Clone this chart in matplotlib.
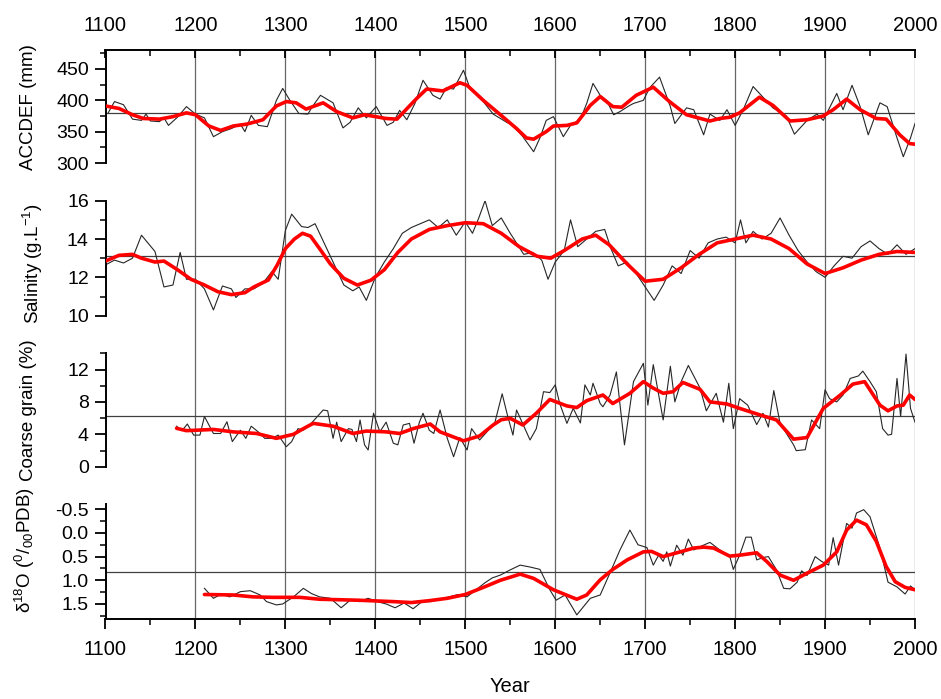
import matplotlib
matplotlib.use('Agg')
import matplotlib.pyplot as plt
from matplotlib.ticker import MultipleLocator, FixedLocator

plt.rcParams['font.family'] = ['Liberation Sans', 'DejaVu Sans']
plt.rcParams['mathtext.fontset'] = 'custom'
plt.rcParams['mathtext.rm'] = 'Liberation Sans'
plt.rcParams['mathtext.it'] = 'Liberation Sans:italic'

# ---- data ----
year_ticks = list(range(1100, 2001, 100))

acc_years = [1103, 1110, 1120, 1130, 1140, 1145, 1150, 1160, 1165, 1170,
             1180, 1190, 1200, 1210, 1220, 1230, 1240, 1250, 1255, 1262,
             1270, 1280, 1290, 1297, 1305, 1315, 1325, 1330, 1339, 1353,
             1364, 1372, 1381, 1390, 1401, 1413, 1420, 1427, 1435, 1444,
             1453, 1464, 1472, 1479, 1487, 1498, 1505, 1520, 1531, 1546,
             1553, 1564, 1576, 1583, 1590, 1598, 1609, 1617, 1628, 1635,
             1642, 1650, 1657, 1665, 1672, 1683, 1687, 1698, 1705, 1716,
             1728, 1733, 1746, 1754, 1765, 1772, 1783, 1791, 1800, 1809,
             1820, 1831, 1842, 1857, 1866, 1880, 1891, 1898, 1913, 1920,
             1930, 1939, 1948, 1961, 1969, 1980, 1987, 1995, 2000]
acc_raw = [380, 398, 393, 370, 368, 378, 367, 366, 372, 360,
           373, 390, 378, 372, 342, 350, 355, 362, 350, 376,
           360, 358, 400, 419, 400, 379, 378, 390, 408, 396,
           356, 365, 388, 372, 390, 360, 365, 384, 369, 395,
           432, 408, 402, 420, 418, 448, 420, 398, 378, 365,
           360, 342, 318, 340, 368, 374, 342, 360, 370, 395,
           427, 408, 400, 377, 382, 392, 395, 400, 420, 437,
           390, 363, 388, 385, 345, 378, 368, 385, 360, 385,
           422, 405, 388, 375, 346, 368, 378, 368, 411, 385,
           424, 390, 345, 396, 390, 340, 310, 340, 363]
acc_s_years = [1100, 1115, 1130, 1142, 1160, 1175, 1190, 1200, 1215, 1228,
               1242, 1257, 1275, 1290, 1301, 1312, 1323, 1342, 1357, 1375,
               1388, 1412, 1424, 1446, 1457, 1475, 1494, 1502, 1520, 1539,
               1557, 1568, 1576, 1590, 1598, 1613, 1624, 1639, 1650, 1664,
               1674, 1690, 1709, 1727, 1746, 1772, 1783, 1794, 1805, 1827,
               1842, 1861, 1880, 1898, 1909, 1924, 1939, 1957, 1968, 1983,
               1994, 2000]
acc_smooth = [391, 387, 377, 371, 370, 374, 380, 377, 359, 352,
              359, 362, 369, 391, 398, 396, 386, 396, 382, 372,
              377, 371, 370, 403, 418, 415, 428, 424, 400, 377,
              355, 340, 338, 350, 359, 360, 364, 392, 406, 390,
              389, 408, 421, 398, 377, 367, 371, 373, 380, 405,
              392, 367, 369, 375, 385, 402, 385, 371, 370, 345,
              331, 330]

sal_years = [1100, 1110, 1120, 1130, 1140, 1155, 1165, 1175, 1183, 1190,
             1200, 1210, 1220, 1230, 1240, 1245, 1255, 1265, 1275, 1285,
             1292, 1300, 1307, 1318, 1325, 1333, 1345, 1355, 1365, 1375,
             1382, 1390, 1400, 1410, 1420, 1430, 1440, 1450, 1460, 1470,
             1480, 1490, 1500, 1508, 1515, 1522, 1530, 1540, 1550, 1565,
             1575, 1585, 1592, 1600, 1610, 1617, 1625, 1635, 1645, 1655,
             1662, 1670, 1680, 1690, 1700, 1710, 1720, 1730, 1740, 1750,
             1760, 1770, 1780, 1790, 1800, 1806, 1812, 1820, 1830, 1840,
             1850, 1860, 1870, 1880, 1890, 1900, 1910, 1920, 1930, 1940,
             1950, 1960, 1970, 1980, 1990, 2000]
sal_raw = [12.65, 12.9, 12.75, 13.0, 14.2, 13.35, 11.5, 11.6, 13.3, 11.9,
           11.9, 11.4, 10.3, 11.55, 11.4, 10.95, 11.4, 11.4, 11.7, 12.3,
           11.9, 14.45, 15.3, 14.65, 14.6, 14.8, 13.6, 12.6, 11.6, 11.3,
           11.5, 10.8, 12.0, 12.8, 13.5, 14.3, 14.6, 14.8, 15.0, 14.6,
           15.0, 14.2, 14.9, 14.3, 15.1, 16.0, 14.7, 15.1, 14.3, 13.2,
           13.3, 12.9, 11.9, 12.8, 13.4, 15.0, 13.6, 14.0, 14.4, 14.5,
           13.5, 12.6, 12.8, 12.2, 11.5, 10.8, 11.6, 12.6, 12.2, 13.4,
           13.0, 13.8, 14.0, 14.1, 13.8, 15.0, 13.8, 14.4, 14.0, 14.3,
           15.1, 14.2, 13.4, 12.8, 12.3, 12.0, 12.6, 13.1, 13.0, 13.6,
           13.9, 13.5, 13.2, 13.7, 13.2, 13.5]
sal_s_years = [1100, 1115, 1130, 1140, 1155, 1165, 1180, 1195, 1210, 1225,
               1240, 1255, 1265, 1281, 1291, 1300, 1310, 1319, 1328, 1338,
               1350, 1365, 1380, 1395, 1410, 1425, 1440, 1460, 1480, 1500,
               1520, 1540, 1560, 1580, 1595, 1610, 1630, 1645, 1660, 1680,
               1700, 1720, 1740, 1760, 1780, 1800, 1820, 1840, 1860, 1880,
               1900, 1920, 1940, 1960, 1980, 2000]
sal_smooth = [12.85, 13.15, 13.2, 13.0, 12.8, 12.85, 12.4, 11.9, 11.6, 11.25,
              11.1, 11.2, 11.5, 11.86, 12.65, 13.5, 14.0, 14.3, 14.15, 13.5,
              12.7, 11.95, 11.6, 11.85, 12.4, 13.3, 14.0, 14.5, 14.7, 14.85,
              14.8, 14.3, 13.6, 13.1, 13.0, 13.4, 14.0, 14.2, 13.7, 12.7,
              11.8, 11.9, 12.5, 13.2, 13.8, 14.0, 14.2, 14.0, 13.5, 12.7,
              12.2, 12.5, 12.9, 13.2, 13.35, 13.3]

cg_years = [1179, 1185, 1191, 1198, 1205, 1210, 1220, 1228, 1235, 1241,
            1250, 1256, 1262, 1272, 1277, 1285, 1292, 1301, 1307, 1314,
            1320, 1327, 1334, 1342, 1347, 1353, 1357, 1362, 1370, 1374,
            1379, 1383, 1388, 1392, 1398, 1405, 1412, 1420, 1425, 1431,
            1438, 1443, 1449, 1453, 1460, 1465, 1472, 1480, 1487, 1494,
            1502, 1507, 1516, 1524, 1533, 1541, 1547, 1553, 1557, 1572,
            1579, 1587, 1594, 1600, 1605, 1613, 1620, 1628, 1633, 1639,
            1642, 1650, 1653, 1661, 1668, 1677, 1687, 1698, 1703, 1709,
            1720, 1728, 1733, 1740, 1748, 1761, 1768, 1779, 1787, 1793,
            1798, 1805, 1814, 1824, 1831, 1837, 1843, 1850, 1865, 1868,
            1878, 1885, 1894, 1900, 1905, 1913, 1920, 1928, 1937, 1942,
            1950, 1957, 1964, 1970, 1974, 1980, 1984, 1990, 1995, 2000]
cg_raw = [5.0, 4.45, 5.27, 3.9, 3.9, 6.2, 4.1, 4.1, 5.55, 3.1,
          4.5, 3.5, 5.0, 4.1, 3.5, 3.5, 3.9, 2.47, 3.1, 4.7,
          4.5, 5.15, 6.0, 7.0, 6.9, 3.5, 5.5, 3.1, 4.7, 4.6,
          3.1, 5.77, 2.7, 2.06, 6.6, 4.3, 5.5, 2.9, 2.7, 5.15,
          5.35, 2.9, 5.5, 6.6, 4.5, 4.1, 7.0, 3.5, 1.23, 3.6,
          2.06, 4.7, 3.3, 4.3, 5.5, 9.0, 6.3, 3.9, 7.0, 3.3,
          4.7, 9.26, 9.15, 10.1, 7.8, 5.35, 7.2, 5.4, 10.1, 8.85,
          10.3, 7.8, 7.4, 8.85, 11.7, 2.7, 10.5, 12.76, 7.6, 12.6,
          5.77, 12.4, 8.0, 10.5, 12.5, 9.7, 6.9, 9.06, 5.5, 10.3,
          4.7, 8.4, 7.6, 5.2, 6.6, 4.9, 9.4, 5.35, 2.7, 1.98,
          2.1, 5.77, 4.7, 9.5, 8.4, 8.0, 8.85, 10.9, 11.2, 11.8,
          10.5, 9.26, 4.7, 3.9, 4.0, 10.9, 6.2, 13.9, 7.2, 5.5]
cg_s_years = [1179, 1190, 1220, 1242, 1268, 1290, 1309, 1320, 1331, 1353,
              1375, 1390, 1412, 1427, 1442, 1461, 1472, 1498, 1516, 1531,
              1540, 1550, 1564, 1579, 1594, 1613, 1624, 1635, 1653, 1664,
              1683, 1698, 1709, 1720, 1731, 1742, 1761, 1772, 1791, 1805,
              1828, 1846, 1865, 1880, 1898, 1917, 1931, 1944, 1961, 1970,
              1980, 1987, 1994, 2000]
cg_smooth = [4.74, 4.45, 4.6, 4.3, 4.1, 3.5, 4.0, 4.7, 5.35, 5.0,
             4.1, 4.4, 4.3, 4.1, 4.7, 5.27, 4.3, 3.2, 3.8, 5.15,
             5.8, 5.97, 5.15, 6.6, 8.3, 7.5, 7.3, 8.15, 8.85, 7.8,
             9.06, 10.5, 9.7, 9.06, 9.26, 10.4, 9.55, 8.0, 7.74, 7.2,
             6.38, 5.77, 3.4, 3.6, 7.2, 8.85, 10.2, 10.5, 7.6, 6.9,
             7.5, 7.6, 8.85, 8.3]

d18_years = [1210, 1220, 1229, 1238, 1250, 1261, 1272, 1279, 1290, 1297,
             1309, 1320, 1329, 1338, 1350, 1362, 1372, 1382, 1392, 1402,
             1412, 1422, 1432, 1442, 1452, 1462, 1472, 1482, 1492, 1502,
             1512, 1522, 1530, 1539, 1550, 1561, 1572, 1583, 1594, 1601,
             1611, 1624, 1639, 1650, 1661, 1672, 1683, 1692, 1702, 1709,
             1715, 1720, 1724, 1728, 1735, 1742, 1748, 1754, 1761, 1772,
             1783, 1794, 1798, 1805, 1812, 1818, 1824, 1831, 1837, 1846,
             1854, 1861, 1869, 1874, 1880, 1889, 1896, 1904, 1909, 1915,
             1924, 1930, 1935, 1943, 1950, 1961, 1970, 1980, 1989, 1995,
             2000]
d18_raw = [1.17, 1.38, 1.29, 1.35, 1.24, 1.22, 1.31, 1.45, 1.52, 1.5,
           1.35, 1.17, 1.28, 1.35, 1.38, 1.58, 1.42, 1.45, 1.38, 1.45,
           1.5, 1.58, 1.48, 1.6, 1.45, 1.45, 1.4, 1.35, 1.3, 1.35,
           1.2, 1.05, 0.95, 0.89, 0.78, 0.68, 0.72, 0.77, 1.2, 1.42,
           1.31, 1.73, 1.38, 1.31, 0.84, 0.36, -0.06, 0.25, 0.31, 0.68,
           0.47, 0.6, 0.4, 0.7, 0.26, 0.47, 0.13, 0.36, 0.29, 0.2,
           0.36, 0.49, 0.77, 0.47, 0.09, 0.09, 0.57, 0.52, 0.5, 0.78,
           1.17, 1.18, 1.04, 0.8, 0.9, 0.5, 0.6, 0.68, 0.1, 0.68,
           -0.2, -0.1, -0.42, -0.49, -0.34, 0.32, 1.04, 1.14, 1.29, 1.12,
           1.2]
d18_s_years = [1210, 1242, 1264, 1286, 1316, 1338, 1380, 1420, 1440, 1460,
               1480, 1500, 1520, 1539, 1561, 1576, 1598, 1624, 1635, 1650,
               1664, 1680, 1698, 1707, 1720, 1739, 1754, 1765, 1776, 1794,
               1805, 1824, 1835, 1850, 1865, 1880, 1898, 1913, 1924, 1935,
               1946, 1957, 1968, 1978, 1989, 2000]
d18_smooth = [1.3, 1.31, 1.35, 1.36, 1.36, 1.4, 1.42, 1.45, 1.47, 1.43,
              1.38, 1.3, 1.15, 1.0, 0.87, 0.96, 1.2, 1.4, 1.31, 0.99,
              0.77, 0.57, 0.4, 0.39, 0.5, 0.4, 0.32, 0.3, 0.32, 0.49,
              0.47, 0.42, 0.6, 0.89, 1.0, 0.85, 0.68, 0.4, -0.06, -0.27,
              -0.17, 0.18, 0.71, 1.03, 1.15, 1.2]

# mean (reference) lines
ref_levels = [380, 13.1, 6.2, 0.83]

# ---- figure ----
W, H = 941, 699
fig = plt.figure(figsize=(W / 100, H / 100), dpi=100)
L, R = 105.5, 915.0


def add_px_axes(top, bottom):
    return fig.add_axes([L / W, 1 - bottom / H, (R - L) / W, (bottom - top) / H])


# frame axes: top/bottom year axes and century grid lines
ax0 = add_px_axes(50, 619)
ax0.set_xlim(year_ticks[0], year_ticks[-1])
ax0.set_ylim(0, 1)
ax0.set_yticks([])
for s in ['left', 'right', 'top']:
    ax0.spines[s].set_visible(False)
ax0.spines['bottom'].set_linewidth(1.4)
ax0.set_xticks(year_ticks)
ax0.xaxis.set_minor_locator(MultipleLocator(50))
ax0.tick_params(axis='x', which='major', direction='out', length=7, width=1.3,
                labelsize=14.5, pad=8)
ax0.tick_params(axis='x', which='minor', direction='out', length=4.5, width=1.1)
ax0.vlines(year_ticks[1:], 0, 1, color='0.4', lw=0.9, zorder=0)
ax0.set_xlabel('Year', fontsize=14.5, labelpad=13)

top = ax0.secondary_xaxis('top')
top.set_xticks(year_ticks)
top.xaxis.set_minor_locator(MultipleLocator(50))
top.spines['top'].set_linewidth(1.4)
top.tick_params(axis='x', which='major', direction='in', length=5.5, width=1.3,
                labelsize=14.5, pad=11)
top.tick_params(axis='x', which='minor', direction='in', length=4, width=1.1)

panels = [
    dict(x=acc_years, y=acc_raw, xs=acc_s_years, ys=acc_smooth, px=(51, 163),
         lim=(300, 478.7), major=[300, 350, 400, 450], minor=25,
         label='ACCDEF (mm)', lx=-0.085, ly=0.5),
    dict(x=sal_years, y=sal_raw, xs=sal_s_years, ys=sal_smooth, px=(200.7, 315.7),
         lim=(10, 16), major=[10, 12, 14, 16], minor=1,
         label='Salinity (g.L$^{-1}$)', lx=-0.075, ly=0.45),
    dict(x=cg_years, y=cg_raw, xs=cg_s_years, ys=cg_smooth, px=(353.3, 466.7),
         lim=(0, 14), major=[0, 4, 8, 12], minor=2,
         label='Coarse grain (%)', lx=-0.085, ly=0.5),
    dict(x=d18_years, y=d18_raw, xs=d18_s_years, ys=d18_smooth, px=(504, 619),
         lim=(1.817, -0.61), major=[-0.5, 0.0, 0.5, 1.0, 1.5], minor=0.25,
         label='δ$^{18}$O ($^{0}$/$_{00}$PDB)', lx=-0.085, ly=0.6),
]

for p, ref in zip(panels, ref_levels):
    ax = add_px_axes(*p['px'])
    ax.patch.set_alpha(0)
    ax.set_xlim(year_ticks[0], year_ticks[-1])
    ax.set_ylim(*p['lim'])
    for s in ['right', 'top', 'bottom']:
        ax.spines[s].set_visible(False)
    ax.spines['left'].set_linewidth(1.4)
    ax.set_xticks([])
    ax.yaxis.set_major_locator(FixedLocator(p['major']))
    ax.yaxis.set_minor_locator(MultipleLocator(p['minor']))
    if p['lim'][0] > p['lim'][1]:
        ax.yaxis.set_major_formatter(plt.FormatStrFormatter('%.1f'))
    ax.tick_params(axis='y', which='major', direction='out', length=8, width=1.3,
                   labelsize=14, pad=4)
    ax.tick_params(axis='y', which='minor', direction='out', length=4.5, width=1.1)
    ax.axhline(ref, color='0.25', lw=0.9, zorder=1)
    ax.plot(p['x'], p['y'], color='0.15', lw=0.8, zorder=2)
    ax.plot(p['xs'], p['ys'], color='#ff0000', lw=2.6, zorder=3,
            solid_joinstyle='round', solid_capstyle='round')
    ax.set_ylabel(p['label'], fontsize=13.5)
    ax.yaxis.set_label_coords(p['lx'], p['ly'])

fig.savefig('out.png', dpi=100)
